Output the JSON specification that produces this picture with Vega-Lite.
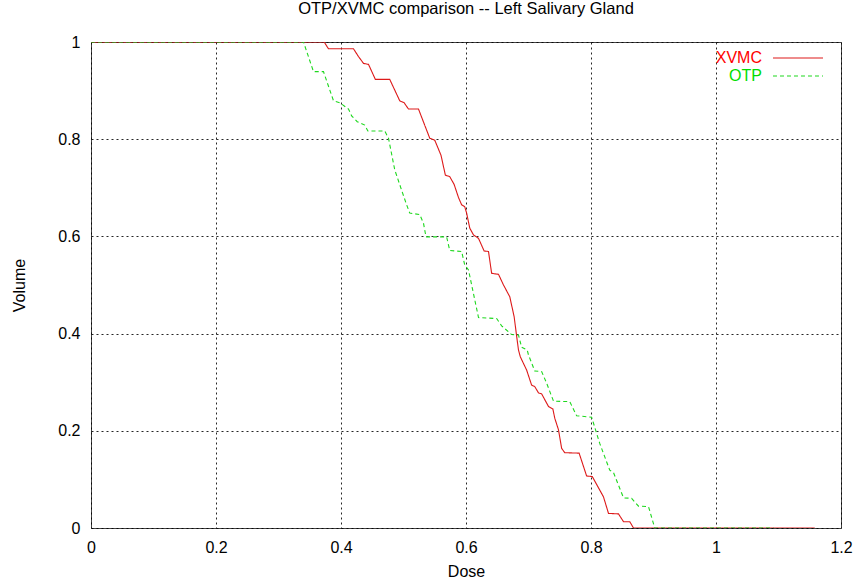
{
  "$schema": "https://vega.github.io/schema/vega-lite/v6.json",
  "width": 750,
  "height": 486,
  "autosize": {"type": "none"},
  "padding": {"left": 91, "top": 42, "right": 17, "bottom": 54},
  "background": "white",
  "title": {"text": "OTP/XVMC comparison -- Left Salivary Gland", "font": "Liberation Sans", "fontSize": 16.5, "fontWeight": "normal", "color": "black", "anchor": "middle", "offset": 17},
  "config": {
    "view": {"stroke": "#444", "strokeWidth": 1},
    "axis": {
      "labelFont": "Liberation Sans", "labelFontSize": 16, "labelColor": "black",
      "titleFont": "Liberation Sans", "titleFontSize": 16, "titleFontWeight": "normal", "titleColor": "black",
      "domain": false, "ticks": false,
      "grid": true, "gridColor": "#000", "gridDash": [2, 3], "gridWidth": 1, "gridOpacity": 0.85,
      "labelFlush": false, "labelOverlap": false
    }
  },
  "data": {"values": [
    {"series": "XVMC", "dose": 0, "volume": 1},
    {"series": "XVMC", "dose": 0.373, "volume": 1},
    {"series": "XVMC", "dose": 0.380, "volume": 0.986},
    {"series": "XVMC", "dose": 0.420, "volume": 0.986},
    {"series": "XVMC", "dose": 0.428, "volume": 0.970},
    {"series": "XVMC", "dose": 0.436, "volume": 0.956},
    {"series": "XVMC", "dose": 0.444, "volume": 0.954},
    {"series": "XVMC", "dose": 0.455, "volume": 0.923},
    {"series": "XVMC", "dose": 0.478, "volume": 0.923},
    {"series": "XVMC", "dose": 0.494, "volume": 0.879},
    {"series": "XVMC", "dose": 0.501, "volume": 0.875},
    {"series": "XVMC", "dose": 0.508, "volume": 0.862},
    {"series": "XVMC", "dose": 0.524, "volume": 0.862},
    {"series": "XVMC", "dose": 0.542, "volume": 0.802},
    {"series": "XVMC", "dose": 0.550, "volume": 0.798},
    {"series": "XVMC", "dose": 0.560, "volume": 0.767},
    {"series": "XVMC", "dose": 0.567, "volume": 0.726},
    {"series": "XVMC", "dose": 0.574, "volume": 0.723},
    {"series": "XVMC", "dose": 0.581, "volume": 0.707},
    {"series": "XVMC", "dose": 0.588, "volume": 0.680},
    {"series": "XVMC", "dose": 0.593, "volume": 0.665},
    {"series": "XVMC", "dose": 0.598, "volume": 0.661},
    {"series": "XVMC", "dose": 0.601, "volume": 0.648},
    {"series": "XVMC", "dose": 0.606, "volume": 0.617},
    {"series": "XVMC", "dose": 0.612, "volume": 0.603},
    {"series": "XVMC", "dose": 0.620, "volume": 0.596},
    {"series": "XVMC", "dose": 0.629, "volume": 0.570},
    {"series": "XVMC", "dose": 0.636, "volume": 0.569},
    {"series": "XVMC", "dose": 0.641, "volume": 0.524},
    {"series": "XVMC", "dose": 0.652, "volume": 0.522},
    {"series": "XVMC", "dose": 0.660, "volume": 0.500},
    {"series": "XVMC", "dose": 0.670, "volume": 0.476},
    {"series": "XVMC", "dose": 0.677, "volume": 0.435},
    {"series": "XVMC", "dose": 0.681, "volume": 0.395},
    {"series": "XVMC", "dose": 0.684, "volume": 0.366},
    {"series": "XVMC", "dose": 0.687, "volume": 0.352},
    {"series": "XVMC", "dose": 0.697, "volume": 0.325},
    {"series": "XVMC", "dose": 0.705, "volume": 0.294},
    {"series": "XVMC", "dose": 0.710, "volume": 0.291},
    {"series": "XVMC", "dose": 0.716, "volume": 0.278},
    {"series": "XVMC", "dose": 0.721, "volume": 0.276},
    {"series": "XVMC", "dose": 0.732, "volume": 0.250},
    {"series": "XVMC", "dose": 0.739, "volume": 0.245},
    {"series": "XVMC", "dose": 0.742, "volume": 0.226},
    {"series": "XVMC", "dose": 0.748, "volume": 0.202},
    {"series": "XVMC", "dose": 0.753, "volume": 0.164},
    {"series": "XVMC", "dose": 0.758, "volume": 0.155},
    {"series": "XVMC", "dose": 0.781, "volume": 0.154},
    {"series": "XVMC", "dose": 0.793, "volume": 0.107},
    {"series": "XVMC", "dose": 0.802, "volume": 0.106},
    {"series": "XVMC", "dose": 0.820, "volume": 0.064},
    {"series": "XVMC", "dose": 0.828, "volume": 0.030},
    {"series": "XVMC", "dose": 0.844, "volume": 0.029},
    {"series": "XVMC", "dose": 0.852, "volume": 0.013},
    {"series": "XVMC", "dose": 0.862, "volume": 0.013},
    {"series": "XVMC", "dose": 0.868, "volume": 0},
    {"series": "XVMC", "dose": 1.158, "volume": 0},
    {"series": "OTP", "dose": 0, "volume": 1},
    {"series": "OTP", "dose": 0.340, "volume": 1},
    {"series": "OTP", "dose": 0.356, "volume": 0.939},
    {"series": "OTP", "dose": 0.372, "volume": 0.939},
    {"series": "OTP", "dose": 0.388, "volume": 0.879},
    {"series": "OTP", "dose": 0.398, "volume": 0.875},
    {"series": "OTP", "dose": 0.412, "volume": 0.862},
    {"series": "OTP", "dose": 0.417, "volume": 0.848},
    {"series": "OTP", "dose": 0.426, "volume": 0.836},
    {"series": "OTP", "dose": 0.438, "volume": 0.829},
    {"series": "OTP", "dose": 0.443, "volume": 0.817},
    {"series": "OTP", "dose": 0.470, "volume": 0.817},
    {"series": "OTP", "dose": 0.476, "volume": 0.802},
    {"series": "OTP", "dose": 0.486, "volume": 0.737},
    {"series": "OTP", "dose": 0.497, "volume": 0.695},
    {"series": "OTP", "dose": 0.505, "volume": 0.665},
    {"series": "OTP", "dose": 0.510, "volume": 0.648},
    {"series": "OTP", "dose": 0.526, "volume": 0.645},
    {"series": "OTP", "dose": 0.532, "volume": 0.627},
    {"series": "OTP", "dose": 0.536, "volume": 0.599},
    {"series": "OTP", "dose": 0.569, "volume": 0.599},
    {"series": "OTP", "dose": 0.574, "volume": 0.571},
    {"series": "OTP", "dose": 0.593, "volume": 0.569},
    {"series": "OTP", "dose": 0.598, "volume": 0.541},
    {"series": "OTP", "dose": 0.604, "volume": 0.531},
    {"series": "OTP", "dose": 0.620, "volume": 0.433},
    {"series": "OTP", "dose": 0.649, "volume": 0.431},
    {"series": "OTP", "dose": 0.657, "volume": 0.416},
    {"series": "OTP", "dose": 0.673, "volume": 0.398},
    {"series": "OTP", "dose": 0.684, "volume": 0.397},
    {"series": "OTP", "dose": 0.689, "volume": 0.372},
    {"series": "OTP", "dose": 0.698, "volume": 0.366},
    {"series": "OTP", "dose": 0.700, "volume": 0.356},
    {"series": "OTP", "dose": 0.710, "volume": 0.323},
    {"series": "OTP", "dose": 0.721, "volume": 0.322},
    {"series": "OTP", "dose": 0.729, "volume": 0.298},
    {"series": "OTP", "dose": 0.740, "volume": 0.261},
    {"series": "OTP", "dose": 0.766, "volume": 0.260},
    {"series": "OTP", "dose": 0.777, "volume": 0.231},
    {"series": "OTP", "dose": 0.801, "volume": 0.228},
    {"series": "OTP", "dose": 0.814, "volume": 0.174},
    {"series": "OTP", "dose": 0.830, "volume": 0.119},
    {"series": "OTP", "dose": 0.836, "volume": 0.114},
    {"series": "OTP", "dose": 0.852, "volume": 0.062},
    {"series": "OTP", "dose": 0.865, "volume": 0.061},
    {"series": "OTP", "dose": 0.876, "volume": 0.045},
    {"series": "OTP", "dose": 0.892, "volume": 0.044},
    {"series": "OTP", "dose": 0.902, "volume": 0},
    {"series": "OTP", "dose": 1.092, "volume": 0}
  ]},
  "mark": {"type": "line", "strokeWidth": 1.1, "clip": true},
  "encoding": {
    "x": {"field": "dose", "type": "quantitative", "title": "Dose",
          "scale": {"domain": [0, 1.2], "nice": false},
          "axis": {"values": [0, 0.2, 0.4, 0.6, 0.8, 1, 1.2], "format": "~g", "labelPadding": 11, "titlePadding": 8}},
    "y": {"field": "volume", "type": "quantitative", "title": "Volume",
          "scale": {"domain": [0, 1], "nice": false},
          "axis": {"values": [0, 0.2, 0.4, 0.6, 0.8, 1], "format": "~g", "labelPadding": 11, "titlePadding": 30}},
    "color": {"field": "series", "type": "nominal",
              "scale": {"domain": ["XVMC", "OTP"], "range": ["#dd1a1a", "#1ed81e"]},
              "legend": {
                "title": null, "orient": "none", "legendX": 697, "legendY": 6,
                "symbolType": "M-2.78,0H2.78", "symbolSize": 324, "symbolStrokeWidth": 1.1,
                "labelFont": "Liberation Sans", "labelFontSize": 16, "rowPadding": 0,
                "encode": {
                  "labels": {"update": {"x": {"value": -26}, "align": {"value": "right"},
                    "fill": {"signal": "datum.value === 'XVMC' ? '#ff0000' : '#00dd00'"}}}
                }
              }},
    "strokeDash": {"field": "series", "type": "nominal",
                   "scale": {"domain": ["XVMC", "OTP"], "range": [[1, 0], [4, 3]]},
                   "legend": {"title": null}}
  }
}
